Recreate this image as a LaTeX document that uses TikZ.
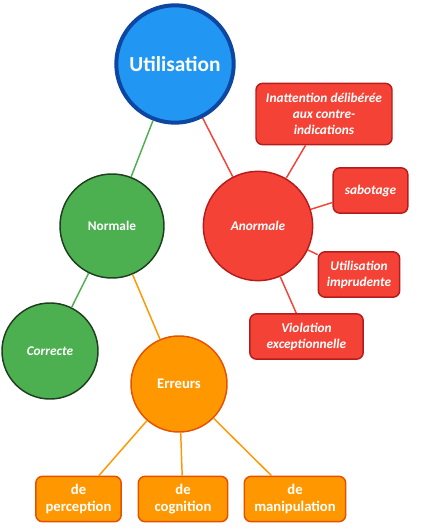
\documentclass[tikz,border=0pt]{standalone}
\usepackage{fontspec}
\setmainfont{Carlito}
\usetikzlibrary{shapes.geometric, positioning, calc}

\definecolor{blueFill}{HTML}{2196F3}
\definecolor{blueLine}{HTML}{0D47A1}
\definecolor{greenFill}{HTML}{4CAF50}
\definecolor{greenLine}{HTML}{1E3F1E}
\definecolor{redFill}{HTML}{F44336}
\definecolor{redLine}{HTML}{B71C1C}
\definecolor{orangeFill}{HTML}{FF9800}
\definecolor{orangeLine}{HTML}{E65100}

\begin{document}
\begin{tikzpicture}[x=0.75pt, y=-0.75pt,
  bubble/.style={circle, draw, line width=1.1pt, text=white, font=\bfseries, align=center},
  tag/.style={draw, line width=1.1pt, rounded corners=5pt, text=white, font=\fontsize{11}{12.5}\selectfont\bfseries, align=center, minimum height=34pt, inner sep=2pt},
  redtag/.style={tag, fill=redFill, draw=redLine, font=\fontsize{10}{12}\selectfont\bfseries\itshape},
  link/.style={line width=1.1pt}]
  \useasboundingbox (0,0) rectangle (424,530);

  \node (use) [bubble, fill=blueFill, draw=blueLine, line width=3pt, minimum size=88pt, font=\fontsize{16}{19}\selectfont\bfseries] at (175,64) {Utilisation};
  \node (norm) [bubble, fill=greenFill, draw=greenLine, minimum size=78pt] at (112,226) {Normale};
  \node (abn) [bubble, fill=redFill, draw=redLine, minimum size=82pt, font=\bfseries\itshape] at (258,226) {Anormale};
  \node (ok) [bubble, fill=greenFill, draw=greenLine, minimum size=72pt, font=\bfseries\itshape] at (50,351) {Correcte};
  \node (err) [bubble, fill=orangeFill, draw=orangeLine, minimum size=72pt, font=\fontsize{11}{13}\selectfont\bfseries] at (179,384) {Erreurs};

  \node (inatt) [redtag, minimum width=102pt, minimum height=46pt] at (324,114) {Inattention délibérée\\aux contre-\\indications};
  \node (sabo) [redtag, minimum width=56pt] at (370.5,190.5) {sabotage};
  \node (impr) [redtag, minimum width=61pt] at (359,274.5) {Utilisation\\imprudente};
  \node (viol) [redtag, minimum width=85pt] at (306.5,336.5) {Violation\\exceptionnelle};

  \node (perc) [tag, fill=orangeFill, draw=orangeLine, minimum width=64pt] at (78.5,499) {de\\perception};
  \node (cogn) [tag, fill=orangeFill, draw=orangeLine, minimum width=67pt] at (183,499) {de\\cognition};
  \node (mani) [tag, fill=orangeFill, draw=orangeLine, minimum width=76pt] at (295,499) {de\\manipulation};

  \draw[link, greenFill] (use) -- (norm);
  \draw[link, redFill] (use) -- (abn);
  \draw[link, greenFill] (norm) -- (ok);
  \draw[link, orangeFill] (norm) -- (err);
  \draw[link, redFill] (abn) -- (inatt);
  \draw[link, redFill] (abn) -- (sabo);
  \draw[link, redFill] (abn) -- (impr);
  \draw[link, redFill] (abn) -- (viol);
  \draw[link, orangeFill] (err) -- (perc);
  \draw[link, orangeFill] (err) -- (cogn);
  \draw[link, orangeFill] (err) -- (mani);
\end{tikzpicture}
\end{document}
